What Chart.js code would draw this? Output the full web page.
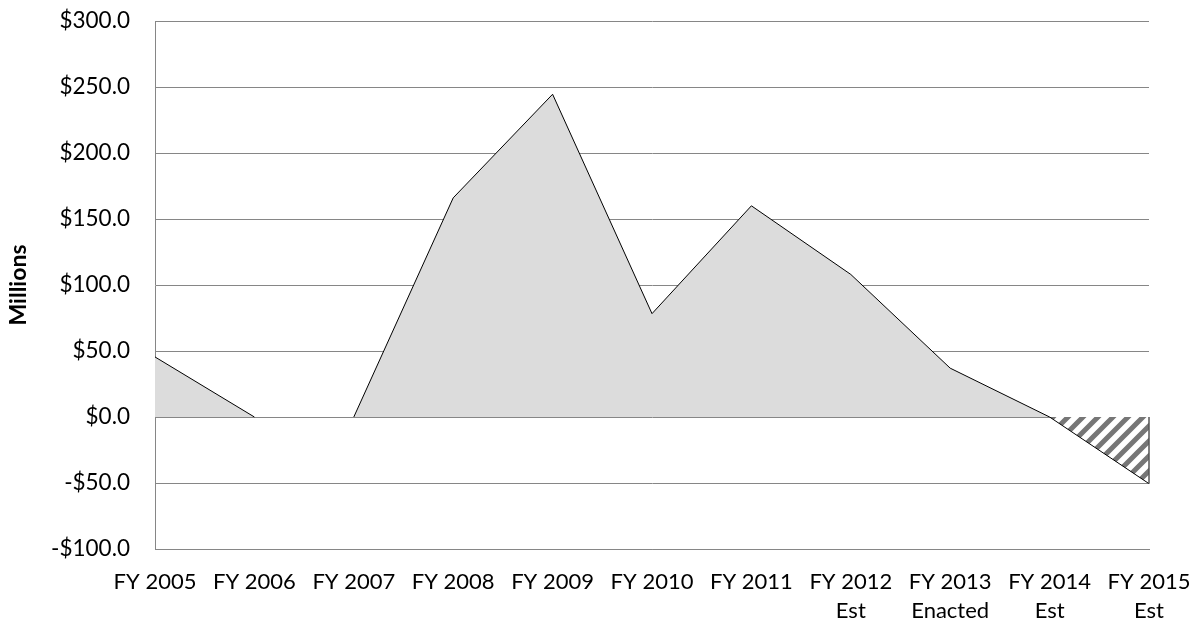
<!DOCTYPE html>
<html>
<head>
<meta charset="utf-8">
<script src="https://cdn.jsdelivr.net/npm/chart.js@4.4.1/dist/chart.umd.min.js"></script>
<style>
  html, body { margin: 0; padding: 0; background: #ffffff; }
  #wrap { width: 1200px; height: 628px; }
</style>
</head>
<body>
<div id="wrap"><canvas id="chart" width="1200" height="628"></canvas></div>
<script>
// Fiscal years along the bottom axis (second line where applicable)
const fiscalYears = [
  ['FY 2005'], ['FY 2006'], ['FY 2007'], ['FY 2008'], ['FY 2009'],
  ['FY 2010'], ['FY 2011'], ['FY 2012', 'Est'], ['FY 2013', 'Enacted'],
  ['FY 2014', 'Est'], ['FY 2015', 'Est']
];

// Balance in millions of dollars: actual/enacted part (solid grey)
const balanceSolid = [45.5, 0, 0, 166, 244.5, 78.3, 160, 108, 37, 0, null];

// Projected shortfall (hatched)
const balanceProjected = [null, null, null, null, null, null, null, null, null, 0, -50.5];

// Value axis range
const axisMin = -100;
const axisMax = 300;
const axisStep = 50;

function moneyLabel(v) {
  return (v < 0 ? '-$' : '$') + Math.abs(v).toFixed(1);
}

// Diagonal hatch fill
function makeHatch() {
  const s = 15;
  const c = document.createElement('canvas');
  c.width = s; c.height = s;
  const g = c.getContext('2d');
  g.fillStyle = '#ffffff';
  g.fillRect(0, 0, s, s);
  g.strokeStyle = '#767676';
  g.lineWidth = 5;
  g.beginPath();
  g.moveTo(-2, s + 2); g.lineTo(s + 2, -2);
  g.moveTo(-3, 3); g.lineTo(3, -3);
  g.moveTo(s - 3, s + 3); g.lineTo(s + 3, s - 3);
  g.stroke();
  return document.getElementById('chart').getContext('2d').createPattern(c, 'repeat');
}

// Closes the hatched area with a vertical edge at its last point
const edgePlugin = {
  id: 'hatchEdge',
  afterDatasetsDraw(chart) {
    const pts = chart.getDatasetMeta(1).data;
    const last = pts[pts.length - 1];
    if (!last) return;
    const y0 = chart.scales.y.getPixelForValue(0);
    const ctx = chart.ctx;
    ctx.save();
    ctx.strokeStyle = '#555555';
    ctx.lineWidth = 1.5;
    ctx.beginPath();
    ctx.moveTo(last.x, y0);
    ctx.lineTo(last.x, last.y);
    ctx.stroke();
    ctx.restore();
  }
};

const zeroSegment = (ctx) =>
  (ctx.p0.parsed.y === 0 && ctx.p1.parsed.y === 0) ? 'rgba(0,0,0,0)' : undefined;

const FONT = "Lato, 'Open Sans', sans-serif";

new Chart(document.getElementById('chart'), {
  type: 'line',
  data: {
    labels: fiscalYears,
    datasets: [
      {
        data: balanceSolid,
        borderColor: '#000000',
        borderWidth: 1,
        backgroundColor: '#dcdcdc',
        fill: 'origin',
        pointRadius: 0,
        tension: 0,
        spanGaps: false,
        segment: { borderColor: zeroSegment }
      },
      {
        data: balanceProjected,
        borderColor: '#000000',
        borderWidth: 1,
        backgroundColor: makeHatch(),
        fill: 'origin',
        pointRadius: 0,
        tension: 0,
        spanGaps: false
      }
    ]
  },
  options: {
    responsive: false,
    animation: false,
    devicePixelRatio: 1,
    layout: { padding: { left: 0, right: 51, top: 21, bottom: 0 } },
    plugins: {
      legend: { display: false },
      tooltip: { enabled: false }
    },
    scales: {
      x: {
        type: 'category',
        offset: false,
        grid: {
          display: true,
          color: 'rgba(0,0,0,0)',
          drawOnChartArea: false,
          drawTicks: true,
          tickLength: 18,
          tickColor: 'rgba(0,0,0,0)'
        },
        border: { display: true, color: '#868686', width: 1 },
        ticks: {
          color: '#000000',
          font: { family: FONT, size: 22, lineHeight: 1.32 },
          padding: 0,
          maxRotation: 0,
          autoSkip: false
        },
        afterFit(scale) { scale.height = 79; }
      },
      y: {
        min: axisMin,
        max: axisMax,
        grid: {
          color: '#868686',
          lineWidth: 1,
          drawTicks: true,
          tickLength: 25,
          tickColor: 'rgba(0,0,0,0)'
        },
        border: { display: true, color: '#868686', width: 1 },
        ticks: {
          stepSize: axisStep,
          color: '#000000',
          font: { family: FONT, size: 22.5 },
          padding: 0,
          callback: (v) => moneyLabel(v)
        },
        title: {
          display: true,
          text: 'Millions',
          color: '#000000',
          font: { family: FONT, size: 23, weight: 'bold' },
          padding: { top: 5, bottom: 0 }
        },
        afterFit(scale) { scale.width = 155; }
      }
    }
  },
  plugins: [edgePlugin]
});
</script>
</body>
</html>
